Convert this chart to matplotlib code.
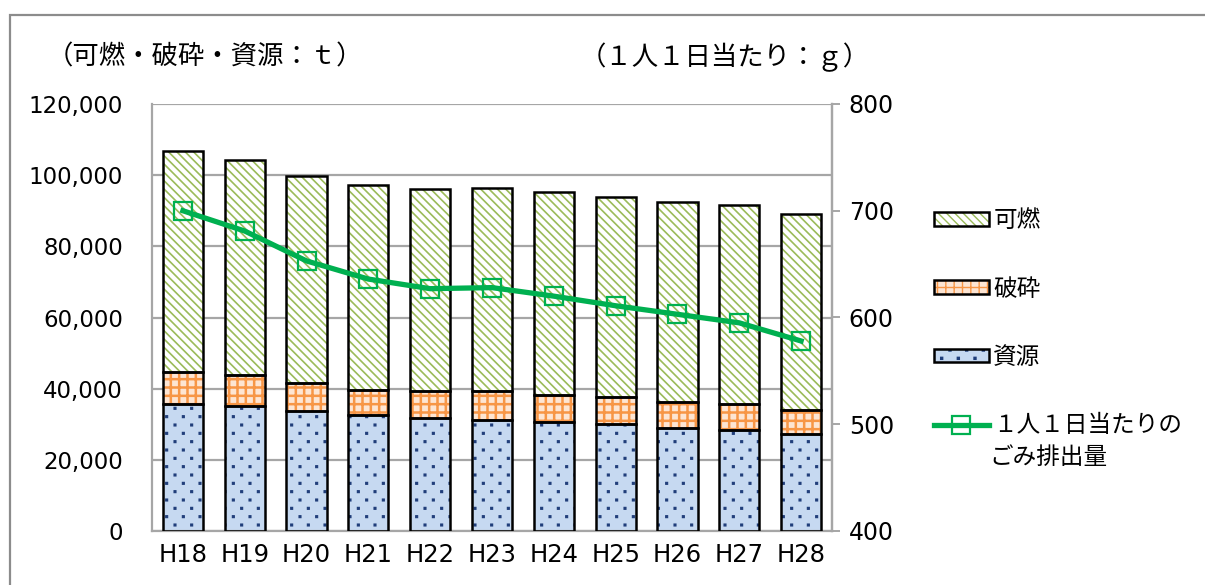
import numpy as np
import matplotlib
matplotlib.use("Agg")
import matplotlib.pyplot as plt
import matplotlib.hatch as mhatch
from matplotlib.path import Path
from matplotlib.patches import Rectangle, Patch
from matplotlib.lines import Line2D
from matplotlib.legend_handler import HandlerTuple
from matplotlib.ticker import FuncFormatter

plt.rcParams['font.family'] = ['Noto Sans CJK JP', 'DejaVu Sans']

# data
years = ['H18', 'H19', 'H20', 'H21', 'H22', 'H23', 'H24', 'H25', 'H26', 'H27', 'H28']
shigen = [35700, 35100, 33700, 32600, 31800, 31200, 30600, 30100, 28900, 28400, 27300]
hasai = [9000, 8700, 7900, 7000, 7500, 8100, 7600, 7600, 7300, 7300, 6700]
kanen = [62100, 60400, 58200, 57600, 56800, 57100, 57000, 56200, 56200, 55900, 55100]
per_capita = [700, 681, 653, 636, 627, 628, 620, 611, 603, 595, 578]

labels = ['可燃', '破砕', '資源', '１人１日当たりの']
label_cont = 'ごみ排出量'


# Excel-like dotted fill: staggered dots, rows twice as close as columns
class StaggeredDots(mhatch.HatchPatternBase):
    size = 0.12

    def __init__(self, hatch, density):
        self.ncol = int(hatch.count('.') * density)
        path = Path.unit_rectangle()
        self.shape_vertices = path.vertices - 0.5
        self.shape_codes = path.codes
        n = self.ncol
        nshapes = (n + 1) * (n + 1) + n * n if n else 0
        self.num_vertices = nshapes * len(self.shape_vertices)

    def set_vertices_and_codes(self, vertices, codes):
        n = self.ncol
        step = 1.0 / n
        shape = self.shape_vertices * step * self.size
        vparts, cparts = [], []
        for row in range(2 * n + 1):
            if row % 2 == 0:
                cols = np.linspace(0, 1, n + 1)
            else:
                cols = np.linspace(step / 2, 1 - step / 2, n)
            for c in cols:
                vparts.append(shape + [c, row * step / 2])
                cparts.append(self.shape_codes)
        np.concatenate(vparts, out=vertices)
        np.concatenate(cparts, out=codes)


mhatch._hatch_types[:] = [StaggeredDots if t is mhatch.SmallFilledCircles else t
                          for t in mhatch._hatch_types]

green_line = '#00B050'
num_font = ['DejaVu Sans']
fig = plt.figure(figsize=(12.05, 5.85), dpi=100)
ax = fig.add_axes([152/1205, 1-531/585, 680/1205, 427/585])

x = np.arange(len(years))
w = 0.65
shigen = np.array(shigen)
hasai = np.array(hasai)
kanen = np.array(kanen)


def hatched(bottom, height, face, hcol, hatch, hlw):
    with plt.rc_context({'hatch.linewidth': hlw}):
        b = ax.bar(x, height, w, bottom=bottom, color=face, edgecolor=hcol,
                   hatch=hatch, linewidth=0, zorder=2)
        for p in b:
            if hasattr(p, 'set_hatch_linewidth'):
                p.set_hatch_linewidth(hlw)
    ax.bar(x, height, w, bottom=bottom, fill=False, edgecolor='black',
           linewidth=1.8, zorder=3)
    return b


b1 = hatched(0, shigen, '#C6D9F1', '#1F3D7A', '.', 0.8)
b2 = hatched(shigen, hasai, '#FDE5D3', '#F79646', '++', 1.8)
b3 = hatched(shigen + hasai, kanen, 'white', '#9BBB59', '\\\\\\\\', 1.2)

ax.set_xlim(-0.5, len(years) - 0.5)
ax.set_ylim(0, 120000)
ax.set_yticks(np.arange(0, 120001, 20000))
ax.yaxis.set_major_formatter(FuncFormatter(lambda v, p: f'{int(v):,}'))
ax.set_xticks(x)
ax.set_xticklabels(years)
ax.tick_params(axis='y', length=0, pad=21, labelsize=16.5)
ax.tick_params(axis='x', length=0, pad=9, labelsize=17.5)
for t in ax.get_xticklabels() + ax.get_yticklabels():
    t.set_family(num_font)
ax.grid(axis='y', color='#A6A6A6', linewidth=1.6)
ax.set_axisbelow(True)
ax.spines['top'].set_visible(False)
for s in ['left', 'bottom', 'right']:
    ax.spines[s].set_color('#A6A6A6')
    ax.spines[s].set_linewidth(1.6)

ax2 = ax.twinx()
ax2.plot(x, per_capita, color=green_line, linewidth=3.8, marker='s',
         markersize=13, markerfacecolor='none', markeredgecolor=green_line,
         markeredgewidth=1.6, zorder=5)
ax2.set_ylim(400, 800)
ax2.set_yticks(np.arange(400, 801, 100))
ax2.tick_params(axis='y', direction='out', length=6, width=1.4, color='#A6A6A6',
                pad=6, labelsize=17)
for t in ax2.get_yticklabels():
    t.set_family(num_font)
for s in ['top', 'left', 'bottom']:
    ax2.spines[s].set_visible(False)
ax2.spines['right'].set_color('#A6A6A6')
ax2.spines['right'].set_linewidth(1.6)

fig.text(205/1205, 1-57/585, '（可燃・破砕・資源：ｔ）', fontsize=19, va='center', ha='center')
fig.text(725/1205, 1-57/585, '（１人１日当たり：ｇ）', fontsize=19, va='center', ha='center')

# legend
handles = []
for b in [b3, b2, b1]:
    p = b[0]
    hp = Patch(facecolor=p.get_facecolor(), edgecolor=p.get_edgecolor(),
               hatch=p.get_hatch(), linewidth=0)
    op = Patch(fill=False, edgecolor='black', linewidth=1.8)
    handles.append((hp, op))
handles.append(Line2D([], [], color=green_line, linewidth=3.8, marker='s',
                      markersize=13, markerfacecolor='none',
                      markeredgecolor=green_line, markeredgewidth=1.6))
leg = fig.legend(handles, labels, loc='upper left', bbox_to_anchor=(913/1205, 1-188/585),
                 frameon=False, fontsize=17, handlelength=2.3, handleheight=0.5,
                 labelspacing=1.92, handletextpad=0.2,
                 handler_map={tuple: HandlerTuple(ndivide=1)})

# second line of the last legend label, placed under the first
fig.canvas.draw()
bb = leg.get_texts()[-1].get_window_extent().transformed(fig.transFigure.inverted())
fig.text(bb.x0 - 4/1205, bb.y0 - 9/585, label_cont, fontsize=17, ha='left', va='top')

# outer chart border
fig.add_artist(Rectangle((10/1205, -0.1), 1.2, 1 - 15/585 + 0.1,
                         transform=fig.transFigure, fill=False,
                         edgecolor='#8C8C8C', linewidth=1.6, clip_on=False))

fig.savefig('out.png', dpi=100)
